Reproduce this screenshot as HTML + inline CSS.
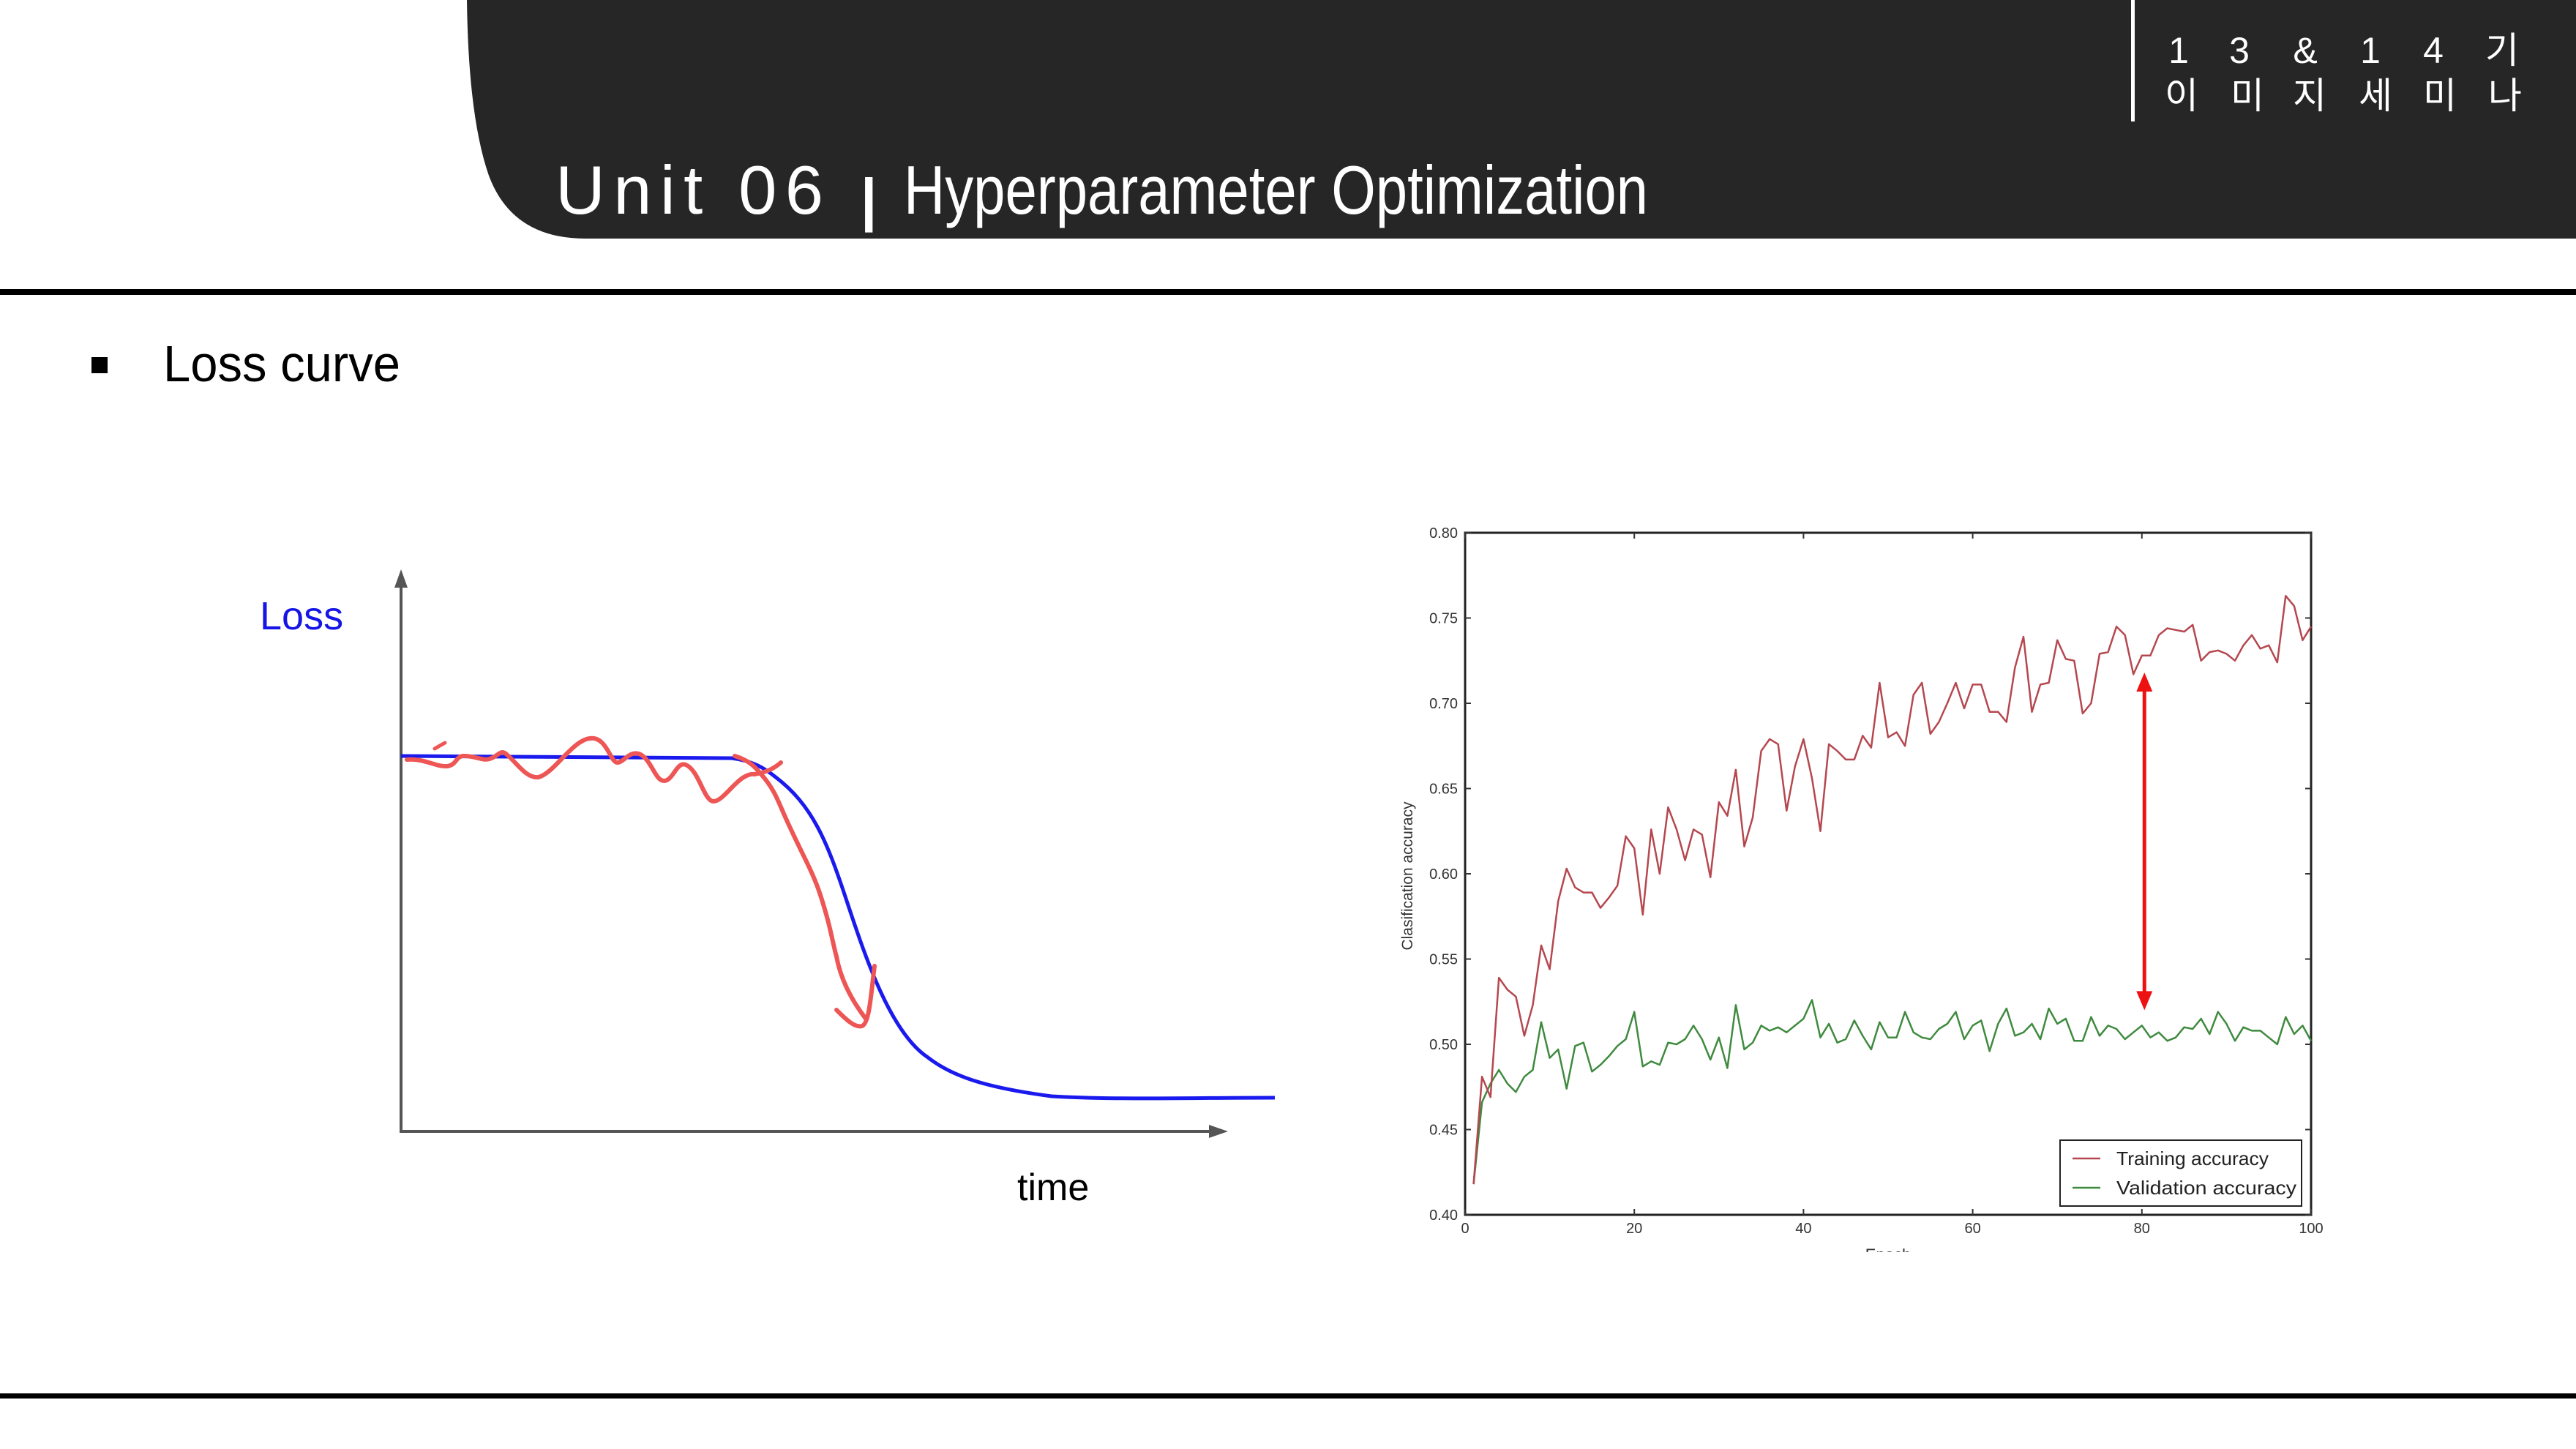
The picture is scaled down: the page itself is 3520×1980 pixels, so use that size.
<!DOCTYPE html>
<html><head><meta charset="utf-8">
<style>
html,body{margin:0;padding:0;background:#fff;}
body{width:3520px;height:1980px;overflow:hidden;position:relative;}
svg{position:absolute;left:0;top:0;}
</style></head>
<body>
<svg id="slide" width="3520" height="1980" viewBox="0 0 3520 1980" xmlns="http://www.w3.org/2000/svg">
  <defs><clipPath id="chartClip"><rect x="1850" y="700" width="1400" height="1011"/></clipPath></defs>
  <!-- header -->
  <path d="M638 0 H3520 V326 H800 Q700 326 668 240 Q640 160 638 0 Z" fill="#262626"/>
  <rect x="2912" y="0" width="5" height="166" fill="#fff"/>
  <g fill="#fff" font-family="'Liberation Sans','Noto Sans CJK KR',sans-serif" font-size="50" text-anchor="middle">
    <text x="2977" y="86">1</text><text x="3060" y="86">3</text><text x="3150" y="86">&amp;</text><text x="3239" y="86">1</text><text x="3325" y="86">4</text><text x="3419" y="86">기</text>
    <text x="2981" y="148">이</text><text x="3071" y="148">미</text><text x="3156" y="148">지</text><text x="3246" y="148">세</text><text x="3334" y="148">미</text><text x="3423" y="148">나</text>
  </g>
  <g fill="#fff" font-family="'Liberation Sans',sans-serif" font-size="94">
    <text x="759" y="292" textLength="366" lengthAdjust="spacing">Unit 06</text>
    <text x="1176" y="300" font-size="80" font-weight="bold">|</text>
    <text x="1235" y="292" textLength="1017" lengthAdjust="spacingAndGlyphs">Hyperparameter Optimization</text>
  </g>
  <rect x="0" y="395" width="3520" height="8" fill="#000"/>
  <rect x="0" y="1904" width="3520" height="7" fill="#000"/>
  <rect x="125" y="488" width="22" height="22" fill="#000"/>
  <text x="223" y="521" font-family="'Liberation Sans',sans-serif" font-size="70" textLength="324" lengthAdjust="spacingAndGlyphs" fill="#000">Loss curve</text>

  <!-- left schematic -->
  <g>
    <line x1="548" y1="1546" x2="548" y2="792" stroke="#555" stroke-width="4"/>
    <polygon points="548,778 539,803 557,803" fill="#555"/>
    <line x1="546" y1="1546" x2="1660" y2="1546" stroke="#555" stroke-width="4"/>
    <polygon points="1678,1546 1652,1537 1652,1555" fill="#555"/>
    <text x="355" y="860" font-family="'Liberation Sans',sans-serif" font-size="54" fill="#1515e6">Loss</text>
    <text x="1390" y="1640" font-family="'Liberation Sans',sans-serif" font-size="52" fill="#000">time</text>
    <path d="M548 1033 L1000 1036 C1030 1040 1045 1050 1060 1062 C1110 1100 1130 1150 1155 1225 C1180 1300 1215 1410 1268 1445 C1300 1470 1345 1486 1437 1498 C1520 1503 1620 1500 1742 1500" fill="none" stroke="#1a1aee" stroke-width="5"/>
    <path d="M556 1038 C580 1036 595 1048 611 1047 C625 1045 622 1033 634 1033 C650 1033 660 1040 669 1037 C680 1034 683 1025 690 1029 C705 1040 718 1064 736 1062 C760 1055 785 1005 812 1009 C830 1012 835 1043 844 1042 C853 1041 860 1026 873 1030 C890 1036 895 1068 908 1067 C920 1066 925 1040 937 1045 C955 1052 962 1095 975 1095 C990 1095 1010 1055 1031 1058 C1050 1055 1060 1048 1067 1042" fill="none" stroke="#ee5555" stroke-width="6" stroke-linecap="round"/>
    <path d="M1004 1033 C1020 1038 1030 1045 1040 1058 C1060 1080 1065 1100 1076 1123 C1095 1165 1110 1190 1120 1220 C1135 1265 1138 1290 1143 1307 C1150 1345 1170 1375 1183 1392 M1143 1380 C1155 1392 1168 1405 1178 1402 C1188 1398 1190 1360 1195 1320" fill="none" stroke="#ee5555" stroke-width="6" stroke-linecap="round"/>
    <line x1="594" y1="1023" x2="608" y2="1015" stroke="#ee5555" stroke-width="5" stroke-linecap="round"/>
  </g>

  <!-- right chart -->
  <g id="acc-chart" clip-path="url(#chartClip)" font-family="'Liberation Sans',sans-serif"></g>
</svg>
<script>
const epochs = Array.from({length:100},(_,i)=>i+1);
const trainingAccuracy = [0.418,0.481,0.469,0.539,0.532,0.528,0.505,0.523,0.558,0.544,0.584,0.603,0.592,0.589,0.589,0.580,0.586,0.593,0.622,0.615,0.576,0.626,0.600,0.639,0.626,0.608,0.626,0.623,0.598,0.642,0.634,0.661,0.616,0.633,0.672,0.679,0.676,0.637,0.663,0.679,0.656,0.625,0.676,0.672,0.667,0.667,0.681,0.674,0.712,0.680,0.683,0.675,0.705,0.712,0.682,0.689,0.700,0.712,0.697,0.711,0.711,0.695,0.695,0.689,0.721,0.739,0.695,0.711,0.712,0.737,0.726,0.725,0.694,0.700,0.729,0.730,0.745,0.740,0.717,0.728,0.728,0.740,0.744,0.743,0.742,0.746,0.725,0.730,0.731,0.729,0.725,0.734,0.740,0.732,0.734,0.724,0.763,0.757,0.737,0.745];
const validationAccuracy = [0.418,0.466,0.477,0.485,0.477,0.472,0.481,0.485,0.513,0.492,0.497,0.474,0.499,0.501,0.484,0.488,0.493,0.499,0.503,0.519,0.487,0.490,0.488,0.501,0.500,0.503,0.511,0.503,0.491,0.504,0.486,0.523,0.497,0.501,0.511,0.508,0.510,0.507,0.511,0.515,0.526,0.504,0.512,0.501,0.503,0.514,0.505,0.497,0.513,0.504,0.504,0.519,0.507,0.504,0.503,0.509,0.512,0.519,0.503,0.511,0.514,0.496,0.512,0.521,0.505,0.507,0.512,0.503,0.521,0.512,0.515,0.502,0.502,0.516,0.505,0.511,0.509,0.503,0.507,0.511,0.504,0.507,0.502,0.504,0.510,0.509,0.515,0.506,0.519,0.512,0.502,0.510,0.508,0.508,0.504,0.500,0.516,0.506,0.511,0.502];
const yTicks = [0.40,0.45,0.50,0.55,0.60,0.65,0.70,0.75,0.80];
const xTicks = [0,20,40,60,80,100];
const gapArrowEpoch = [80.3];
const gapArrowRange = [0.52,0.718];

const NS='http://www.w3.org/2000/svg';
const g=document.getElementById('acc-chart');
const X0=2002,X1=3158,Y0=1660,Y1=728;
const sx=v=>X0+(v-0)/(100-0)*(X1-X0);
const sy=v=>Y0-(v-0.40)/(0.80-0.40)*(Y0-Y1);
function mk(tag,attrs,parent){const e=document.createElementNS(NS,tag);for(const k in attrs)e.setAttribute(k,attrs[k]);(parent||g).appendChild(e);return e;}

const frame=mk('rect',{x:X0,y:Y1,width:X1-X0,height:Y0-Y1,fill:'#fff',stroke:'#222','stroke-width':3});



yTicks.forEach(t=>{
  const y=sy(t);
  const tk=mk('path',{d:`M${X0} ${y}h8M${X1} ${y}h-8`,stroke:'#333','stroke-width':2});
  
  
  const lb=mk('text',{x:1992,y:y+7,'font-size':20,'text-anchor':'end',fill:'#333'});
  lb.textContent=t.toFixed(2);
  
  
});
xTicks.forEach(t=>{
  const x=sx(t);
  const tk=mk('path',{d:`M${x} ${Y0}v-8M${x} ${Y1}v8`,stroke:'#333','stroke-width':2});
  
  
  const lb=mk('text',{x:x,y:1685,'font-size':20,'text-anchor':'middle',fill:'#333'});
  lb.textContent=t;
  
  
});
const yl=mk('text',{x:0,y:0,'font-size':21,'text-anchor':'middle',fill:'#333',transform:'translate(1930 1197) rotate(-90)'});
yl.textContent='Clasification accuracy';


const xl=mk('text',{x:2580,y:1722,'font-size':22,'text-anchor':'middle',fill:'#333'});
xl.textContent='Epoch';



function line(vals,color,name){
  const d=vals.map((v,i)=>(i?'L':'M')+sx(epochs[i]).toFixed(1)+' '+sy(v).toFixed(1)).join('');
  const p=mk('path',{d:d,fill:'none',stroke:color,'stroke-width':2.5,'stroke-linejoin':'round'});
  
  
}
line(validationAccuracy,'#3f8a3f','validation-accuracy-line');
line(trainingAccuracy,'#b5474f','training-accuracy-line');

const ax=sx(gapArrowEpoch[0]),ayT=sy(gapArrowRange[1]),ayB=sy(gapArrowRange[0]);
const arr=mk('path',{d:`M${ax} ${ayT+22}V${ayB-22}`,stroke:'#ee1111','stroke-width':5});


const ah1=mk('polygon',{points:`${ax},${ayT} ${ax-11},${ayT+26} ${ax+11},${ayT+26}`,fill:'#ee1111'});


const ah2=mk('polygon',{points:`${ax},${ayB} ${ax-11},${ayB-26} ${ax+11},${ayB-26}`,fill:'#ee1111'});



const lg=mk('rect',{x:2815,y:1558,width:330,height:90,fill:'#fff',stroke:'#222','stroke-width':2});


[['Training accuracy','#b5474f',1583],['Validation accuracy','#3f8a3f',1623]].forEach(([t,c,y])=>{
  const l=mk('line',{x1:2832,x2:2870,y1:y,y2:y,stroke:c,'stroke-width':2.5});
  
  
  const tx=mk('text',{x:2892,y:y+9,'font-size':26,fill:'#222',textLength:y<1600?208:246,lengthAdjust:'spacingAndGlyphs'});
  tx.textContent=t;
  
  
});
</script>
</body></html>
